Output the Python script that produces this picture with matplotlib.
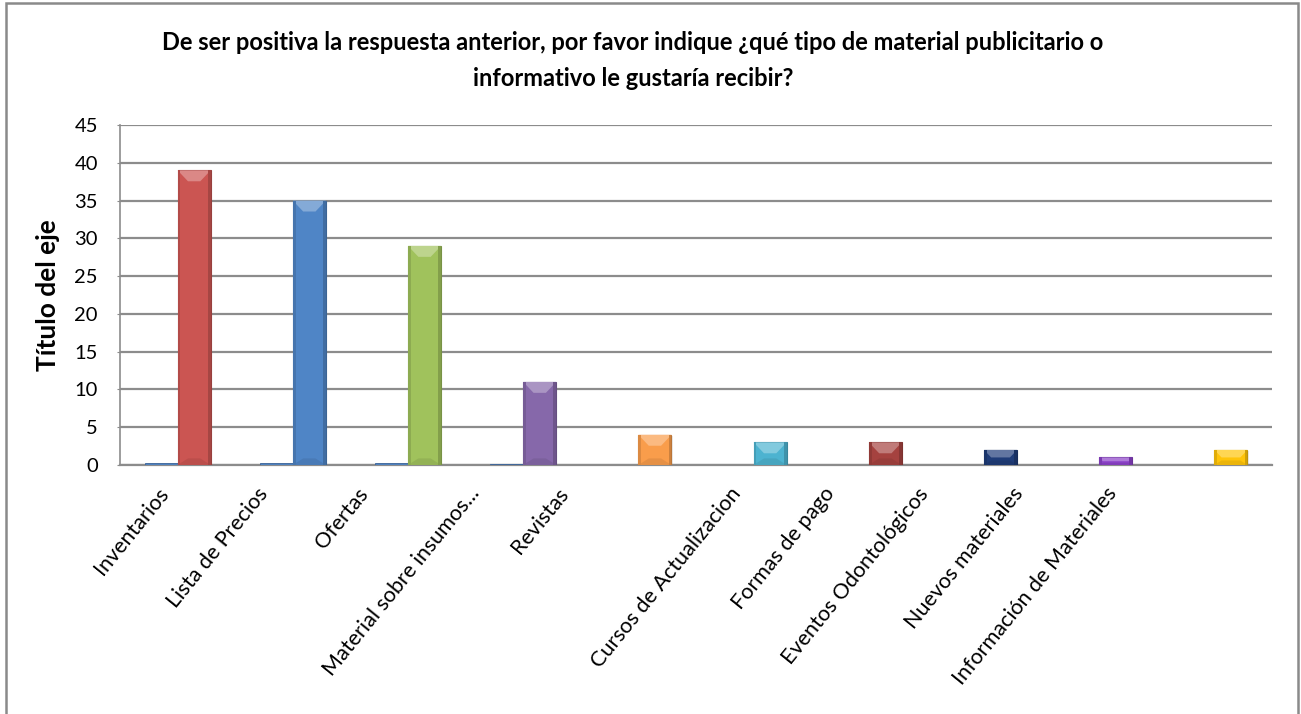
import numpy as np
import matplotlib
matplotlib.use('Agg')
from matplotlib import pyplot as plt
from matplotlib.patches import Rectangle, Polygon
import matplotlib.colors as mcolors
import matplotlib.transforms as mtransforms

plt.rcParams['font.family'] = ['Lato', 'DejaVu Sans']

categories = ['Inventarios', 'Lista de Precios', 'Ofertas', 'Material sobre insumos...',
              'Revistas', 'Cursos de Actualizacion', 'Formas de pago',
              'Eventos Odontológicos', 'Nuevos materiales', 'Información de Materiales']
# first series: share of answers (tiny bars), second series: counts
shares = [0.30, 0.27, 0.22, 0.09, 0.03, 0.02, 0.02, 0.02, 0.01, 0.02]
counts = [39, 35, 29, 11, 4, 3, 3, 2, 1, 2]
bar_colors = ['#CB5552', '#4F85C6', '#A0C25C', '#8668AA', '#F99D4B',
              '#4DB3D0', '#A5423F', '#1F3C78', '#8C42C9', '#FFC40A']
share_color = '#4F81BD'
yticks = [0, 5, 10, 15, 20, 25, 30, 35, 40, 45]

# horizontal nudge of each category label, in pixels
label_shift = [-20, -36, -51, -55, -81, -24, -46, -67, -87, -109]

title1 = 'De ser positiva la respuesta anterior, por favor indique ¿qué tipo de material publicitario o'
title2 = 'informativo le gustaría recibir?'

W, H = 1301, 714
fig = plt.figure(figsize=(W/100, H/100), dpi=100)
ax = fig.add_axes([120/W, 1-465/H, 1152/W, 340/H])

x = np.arange(len(categories))
bw = 0.287

def shade(c, f):
    r = np.array(mcolors.to_rgb(c))
    if f > 0:
        return tuple(r + (1-r)*f)
    return tuple(r*(1+f))

def bevel_bar(ax, xc, h, color):
    # flat body plus light top facet and darker side/bottom facets
    x0, x1 = xc - bw/2, xc + bw/2
    ax.add_patch(Rectangle((x0, 0), bw, h, facecolor=color, edgecolor=shade(color, -0.25),
                           linewidth=0.8, zorder=3))
    dx = 0.09
    dy = min(1.45, h/2)
    dxx = dx * dy / 1.45
    ax.add_patch(Polygon([(x0, h), (x1, h), (x1-dxx, h-dy), (x0+dxx, h-dy)], closed=True,
                         facecolor=shade(color, 0.3), edgecolor='none', zorder=4))
    ax.add_patch(Polygon([(x0, 0), (x1, 0), (x1-dxx, dy*0.6), (x0+dxx, dy*0.6)], closed=True,
                         facecolor=shade(color, -0.08), edgecolor='none', zorder=4))
    side = 0.025
    ax.add_patch(Rectangle((x0, 0), side, h, facecolor=shade(color, -0.12), edgecolor='none', zorder=4))
    ax.add_patch(Rectangle((x1-side, 0), side, h, facecolor=shade(color, -0.18), edgecolor='none', zorder=4))
    # soft drop shadow
    ax.add_patch(Rectangle((x0+0.01, -0.15), bw, h, facecolor='#000000', alpha=0.08,
                           edgecolor='none', zorder=2))

ax.bar(x - bw/2, shares, width=bw, color=share_color, edgecolor='#3A6399', linewidth=0.6, zorder=3)
for xi, v, c in zip(x, counts, bar_colors):
    bevel_bar(ax, xi + bw/2, v, c)

ax.set_xlim(-0.5, len(categories) - 0.5)
ax.set_ylim(0, 45)
ax.set_yticks(yticks)
ax.set_yticklabels([str(t) for t in yticks], fontsize=14.5)
ax.yaxis.grid(True, color='#8C8C8C', linewidth=1.6, zorder=0)
ax.set_axisbelow(True)
for s in ['top', 'right']:
    ax.spines[s].set_visible(False)
ax.spines['left'].set_color('#8C8C8C')
ax.spines['bottom'].set_color('#8C8C8C')
ax.spines['left'].set_linewidth(1.2)
ax.spines['bottom'].set_linewidth(1.6)
ax.tick_params(axis='y', length=2, color='#8C8C8C', pad=14)
ax.tick_params(axis='x', length=0, pad=13.5)
ax.set_xticks(x)
ax.set_xticklabels(categories, rotation=51, ha='right', rotation_mode='anchor', fontsize=15.5)
for lbl, off in zip(ax.get_xticklabels(), label_shift):
    lbl.set_transform(lbl.get_transform() + mtransforms.ScaledTranslation(off/100, 0, fig.dpi_scale_trans))
ax.set_ylabel('Título del eje', fontsize=19, fontweight='bold', va='center')
ax.yaxis.set_label_coords((48-120)/1152, 0.5)

fig.text(633/W, 1-43/H, title1, ha='center', va='center', fontsize=17, fontweight='bold')
fig.text(633/W, 1-79/H, title2, ha='center', va='center', fontsize=17, fontweight='bold')

# outer chart frame
fig.patches.append(Rectangle((6/W, -0.02), 1292/W, 1.02-3/H, transform=fig.transFigure,
                             facecolor='none', edgecolor='#8A8A8A', linewidth=1.8, zorder=0))

fig.savefig('out.png', dpi=100)
